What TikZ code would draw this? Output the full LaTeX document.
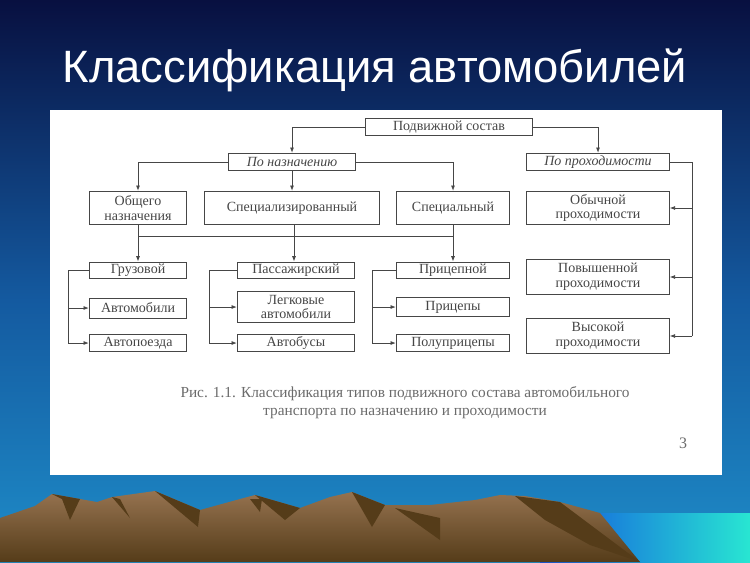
\documentclass[tikz,border=0pt]{standalone}
\usepackage{fontspec}
\setmainfont{Liberation Serif}
\newfontfamily\titlefont{Liberation Sans}
\usepackage{tikz}
\usetikzlibrary{arrows.meta}
\definecolor{skytop}{RGB}{8,16,64}
\definecolor{skymid}{RGB}{20,90,160}
\definecolor{skylow}{RGB}{30,140,200}
\definecolor{seacol}{RGB}{40,230,210}
\definecolor{rock}{RGB}{150,115,80}
\definecolor{rockdark}{RGB}{85,60,25}
\definecolor{ink}{RGB}{70,70,70}
\tikzset{
	box/.style={draw=ink,line width=0.7pt,text=ink,align=center,inner sep=0pt,
		font=\fontsize{10.5}{11}\selectfont},
	ital/.style={box,font=\fontsize{10.5}{11}\selectfont\itshape},
	link/.style={draw=ink,line width=0.6pt},
	arr/.style={link,-{Latex[length=4pt,width=3pt]}}
}
\begin{document}
\begin{tikzpicture}[x=0.75pt,y=-0.75pt]
	\useasboundingbox (0,0) rectangle (750,562);
	% background
	\shade[top color=skytop,bottom color=skymid] (0,0) rectangle (750,300);
	\shade[top color=skymid,bottom color=skylow] (0,300) rectangle (750,562);
	\shade[left color=skylow!60!blue,right color=seacol] (540,513) rectangle (750,562);
	% mountains
	\shade[top color=rock,bottom color=rockdark]
	(0,518) -- (35,506) -- (52,494) -- (80,499) -- (97,502) -- (112,497) -- (155,491)
	-- (200,510) -- (240,499) -- (255,495) -- (300,508) -- (330,497) -- (352,492)
	-- (385,505) -- (430,505) -- (475,500) -- (500,495) -- (525,496) -- (560,502)
	-- (600,513) -- (640,562) -- (0,562) -- cycle;
	\fill[rockdark] (52,494) -- (80,499) -- (70,520) -- (62,499) -- cycle;
	\fill[rockdark] (112,497) -- (120,499) -- (130,518) -- cycle;
	\fill[rockdark] (155,491) -- (200,510) -- (198,527) -- cycle;
	\fill[rockdark] (255,495) -- (300,508) -- (285,520) -- cycle;
	\fill[rockdark] (352,492) -- (385,505) -- (372,527) -- cycle;
	\fill[rockdark] (395,508) -- (440,518) -- (440,540) -- cycle;
	\fill[rockdark] (515,496) -- (560,502) -- (640,562) -- (590,545) -- (545,520) -- cycle;
	\fill[rockdark] (250,499) -- (260,512) -- (262,499) -- cycle;
	% title and panel
	\node[text=white,font=\titlefont\fontsize{34}{37}\selectfont] (title) at (375,70) {Классификация автомобилей};
	\fill[white] (50,110) rectangle (722,475);
	% nodes
	\node[box,minimum width=125pt,minimum height=13pt] (root) at (449,127) {Подвижной состав};
	\node[ital,minimum width=95pt,minimum height=13pt] (purp) at (292,162) {По назначению};
	\node[ital,minimum width=107pt,minimum height=13pt] (pass) at (598,162) {По проходимости};
	\node[box,minimum width=73pt,minimum height=25pt] (gen) at (138,208) {Общего\\назначения};
	\node[box,minimum width=131pt,minimum height=25pt] (spz) at (292,208) {Специализированный};
	\node[box,minimum width=85pt,minimum height=25pt] (spc) at (453,208) {Специальный};
	\node[box,minimum width=107pt,minimum height=25pt] (norm) at (598,208) {Обычной\\проходимости};
	\node[box,minimum width=107pt,minimum height=26pt] (high) at (598,277) {Повышенной\\проходимости};
	\node[box,minimum width=107pt,minimum height=26pt] (top) at (598,336) {Высокой\\проходимости};
	\node[box,minimum width=73pt,minimum height=12pt] (cargo) at (138,270) {Грузовой};
	\node[box,minimum width=73pt,minimum height=15pt] (cars) at (138,308) {Автомобили};
	\node[box,minimum width=73pt,minimum height=13pt] (train) at (138,343) {Автопоезда};
	\node[box,minimum width=88pt,minimum height=12pt] (pasg) at (296,270) {Пассажирский};
	\node[box,minimum width=88pt,minimum height=23pt] (light) at (296,307) {Легковые\\автомобили};
	\node[box,minimum width=88pt,minimum height=13pt] (bus) at (296,343) {Автобусы};
	\node[box,minimum width=85pt,minimum height=12pt] (trl) at (453,270) {Прицепной};
	\node[box,minimum width=85pt,minimum height=14pt] (trls) at (453,307) {Прицепы};
	\node[box,minimum width=85pt,minimum height=13pt] (semi) at (453,343) {Полуприцепы};
	% caption
	\node[text=ink!80,align=center,font=\fontsize{11.5}{13.5}\selectfont] (cap) at (405,403)
	{Рис. 1.1. Классификация типов подвижного состава автомобильного\\транспорта по назначению и проходимости};
	\node[text=ink!80,font=\fontsize{12}{13}\selectfont] (page) at (683,443) {3};
	% links
	\coordinate (bus1) at (138,236);
	\coordinate (bus2) at (294,236);
	\coordinate (bus3) at (453,236);
	\coordinate (rgt) at (692,162);
	\draw[arr] (root.west) -| (purp.north);
	\draw[arr] (root.east) -| (pass.north);
	\draw[arr] (purp.west) -| (gen.north);
	\draw[arr] (purp.south) -- (spz.north);
	\draw[arr] (purp.east) -| (spc.north);
	\draw[link] (gen.south) -- (bus1) -- (bus3) -- (spc.south);
	\draw[link] (bus2) -- (spz.south -| bus2);
	\draw[arr] (bus1) -- (cargo.north);
	\draw[arr] (bus2) -- (pasg.north -| bus2);
	\draw[arr] (bus3) -- (trl.north);
	\draw[link] (pass.east) -- (rgt) -- (rgt |- top.east);
	\foreach \t in {norm,high,top}
		\draw[arr] (rgt |- \t.east) -- (\t.east);
	% brackets
	\foreach \h/\a/\b/\x in {cargo/cars/train/68,pasg/light/bus/209,trl/trls/semi/372}{
		\draw[link] (\h.west) -- (\x,0 |- \h.west) -- (\x,0 |- \b.west);
		\draw[arr] (\x,0 |- \a.west) -- (\a.west);
		\draw[arr] (\x,0 |- \b.west) -- (\b.west);
	}
\end{tikzpicture}
\end{document}
